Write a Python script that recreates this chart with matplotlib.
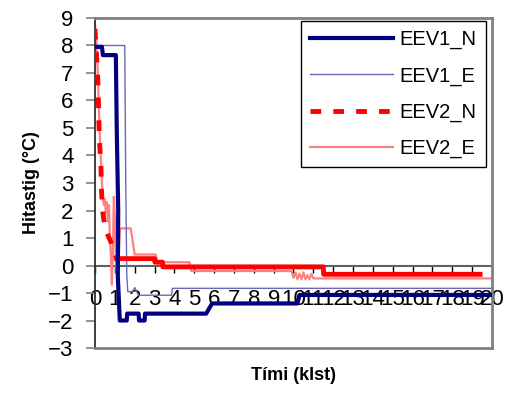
import numpy as np
import matplotlib.pyplot as plt

plt.rcParams['font.family'] = ['Liberation Sans', 'DejaVu Sans']

# EEV1_N - thick navy
t1n = [0, 0.35, 0.4, 1.05, 1.1, 1.17, 1.15, 1.25, 1.6, 1.62, 2.2, 2.22, 2.5, 2.52, 5.6, 5.9, 10.2, 10.3, 20]
v1n = [7.95, 7.95, 7.65, 7.65, 4.8, 2.0, -0.4, -2.0, -2.0, -1.75, -1.75, -2.0, -2.0, -1.75, -1.75, -1.38, -1.38, -1.07, -1.07]

# EEV1_E - thin slate blue
t1e = [0, 1.5, 1.55, 1.6, 1.65, 1.9, 2.0, 2.1, 2.2, 3.85, 3.9, 20]
v1e = [8.0, 8.0, 3.0, -0.3, -0.95, -0.95, -0.8, -0.95, -1.08, -1.08, -0.83, -0.83]

# EEV2_N - thick red, dashed at the start
t2n = [0, 0.08, 0.15, 0.22, 0.3, 0.33, 0.4, 0.5, 0.65, 0.8, 0.95, 1.1,
       3.0, 3.02, 3.4, 3.42, 11.5, 11.52, 19.4]
v2n = [8.6, 7.6, 6.6, 4.6, 3.6, 2.7, 1.9, 1.4, 1.1, 0.86, 0.5, 0.25,
       0.25, 0.12, 0.12, -0.05, -0.05, -0.32, -0.32]

# EEV2_E - pink, noisy
t2e = [0, 0.05, 0.1, 0.15, 0.2, 0.25, 0.3, 0.35, 0.4, 0.45, 0.5, 0.55, 0.6, 0.65,
       0.7, 0.75, 0.8, 0.85, 0.9, 0.95, 1.0, 1.05, 1.1, 1.15, 1.2, 1.25, 1.3, 1.8,
       2.0, 3.05, 3.15, 4.75, 4.85, 9.9, 10.0, 10.1, 10.2, 10.3, 10.4, 10.5, 10.6,
       10.7, 10.8, 10.9, 11.0, 11.2, 20]
v2e = [8.8, 8.4, 7.8, 6.8, 5.6, 4.6, 3.8, 3.0, 2.5, 2.2, 2.4, 1.9, 2.3, 1.6,
       2.2, 1.0, 0.4, -0.7, 0.5, 2.5, 1.8, 0.2, -0.3, 0.6, 0.3, 1.35, 1.35, 1.35,
       0.4, 0.4, 0.12, 0.12, -0.2, -0.2, -0.45, -0.25, -0.5, -0.3, -0.5, -0.25, -0.5,
       -0.35, -0.5, -0.3, -0.47, -0.47, -0.47]

yticks = list(range(-3, 10))
xticks = list(range(0, 21))

fig = plt.figure(figsize=(5.14, 3.98), dpi=100)
ax = fig.add_axes([0.1848, 0.1256, 0.7724, 0.8292])

ax.plot(t2e, v2e, color='#ff8080', lw=1.6, label='EEV2_E', zorder=2)
ax.plot(t1e, v1e, color='#6a6ab4', lw=1.0, label='EEV1_E', zorder=3)
k = 12
ax.plot(t2n[:k], v2n[:k], color='red', lw=3.5, ls=(0, (2.2, 2.5)), label='EEV2_N', zorder=4)
ax.plot(t2n[k - 1:], v2n[k - 1:], color='red', lw=3.5, zorder=4)
ax.plot(t1n, v1n, color='#000080', lw=3, label='EEV1_N', zorder=5)

ax.set_xlim(0, 20)
ax.set_ylim(-3, 9)
ax.set_yticks(yticks)
ax.tick_params(axis='y', length=6.5, color='#808080', width=1.2, labelsize=16, pad=9)
ax.tick_params(axis='x', bottom=False, labelbottom=False)

for s in ['top', 'right', 'bottom']:
    ax.spines[s].set_color('#808080')
    ax.spines[s].set_linewidth(2)
ax.spines['left'].set_color('#303030')
ax.spines['left'].set_linewidth(1.3)

# x axis crossing at y = 0
sec = ax.secondary_xaxis((0 - (-3)) / 12)
sec.set_xticks(xticks)
sec.tick_params(length=5, width=1, labelsize=16, pad=12)
sec.spines['bottom'].set_color('#606060')
sec.spines['bottom'].set_linewidth(1.5)

ax.set_ylabel('Hitastig (°C)', fontsize=13, fontweight='bold', labelpad=6)
ax.set_xlabel('Tími (klst)', fontsize=13, fontweight='bold', labelpad=14)

handles, labels = ax.get_legend_handles_labels()
order = ['EEV1_N', 'EEV1_E', 'EEV2_N', 'EEV2_E']
hmap = dict(zip(labels, handles))
leg = ax.legend([hmap[o] for o in order], order, loc='upper left',
                bbox_to_anchor=(301 / 514, 1 - 21 / 398), bbox_transform=fig.transFigure,
                fontsize=14.5, handlelength=4.1, labelspacing=0.85, borderpad=0.45,
                handletextpad=0.35, borderaxespad=0, fancybox=False, framealpha=1)
leg.get_frame().set_edgecolor('black')
leg.get_frame().set_linewidth(1)

fig.savefig('out.png', dpi=100)
